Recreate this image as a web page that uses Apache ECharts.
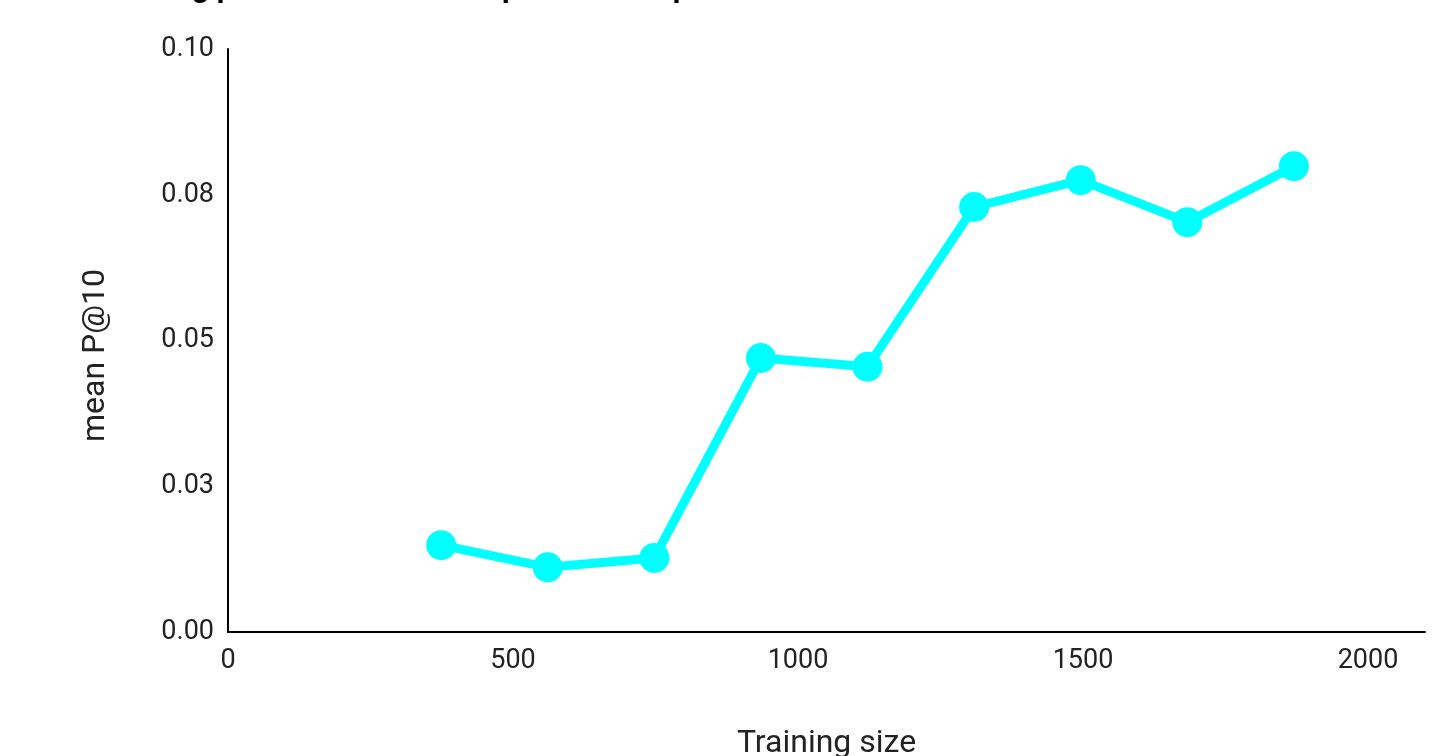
<!DOCTYPE html>
<html>
<head>
<meta charset="utf-8">
<script src="https://cdn.jsdelivr.net/npm/echarts@6/dist/echarts.min.js"></script>
<style>
html,body{margin:0;padding:0;background:#fff;overflow:hidden;}
#chart{width:1438px;height:756px;}
</style>
</head>
<body>
<div id="chart"></div>
<script>
const titleText = 'Learning performance vs. sample size at top 10';
const trainingSizes = [374, 561, 748, 935, 1122, 1309, 1496, 1683, 1870];
const meanP10 = [0.0149, 0.0111, 0.0127, 0.0470, 0.0455, 0.0729, 0.0775, 0.0703, 0.0799];
const xAxisName = 'Training size';
const yAxisName = 'mean P@10';

const chart = echarts.init(document.getElementById('chart'));
chart.setOption({
  animation: false,
  backgroundColor: '#fff',
  title: {
    text: titleText,
    left: 86,
    top: -31,
    textStyle: { fontFamily: 'Roboto', fontSize: 30, fontWeight: 'bold', color: '#000' }
  },
  grid: { left: 228, right: 13, top: 49, bottom: 124, containLabel: false, outerBoundsMode: 'none' },
  xAxis: {
    type: 'value',
    min: 0, max: 2100, interval: 500,
    name: xAxisName,
    nameLocation: 'middle',
    nameGap: 96,
    nameTextStyle: { fontFamily: 'Roboto', fontSize: 32, color: '#222' },
    axisLine: { show: true, lineStyle: { color: '#000', width: 2 } },
    axisTick: { show: false },
    splitLine: { show: false },
    axisLabel: {
      fontFamily: 'Roboto', fontSize: 27, color: '#222', margin: 16,
      formatter: v => (v > 2000 ? '' : String(v))
    }
  },
  yAxis: {
    type: 'value',
    min: 0, max: 0.1, interval: 0.025,
    name: yAxisName,
    nameLocation: 'middle',
    nameGap: 116,
    nameRotate: 90,
    nameTextStyle: { fontFamily: 'Roboto', fontSize: 32, color: '#222', padding: [0, 30, 0, 0] },
    axisLine: { show: true, lineStyle: { color: '#000', width: 2 } },
    axisTick: { show: false },
    splitLine: { show: false },
    axisLabel: {
      fontFamily: 'Roboto', fontSize: 27, color: '#222', margin: 14,
      formatter: v => (Math.round(v * 100) / 100).toFixed(2)
    }
  },
  series: [{
    type: 'line',
    data: trainingSizes.map((x, i) => [x, meanP10[i]]),
    symbol: 'circle',
    symbolSize: 30,
    lineStyle: { color: '#0ff', width: 9 },
    itemStyle: { color: '#0ff' }
  }]
});
</script>
</body>
</html>
